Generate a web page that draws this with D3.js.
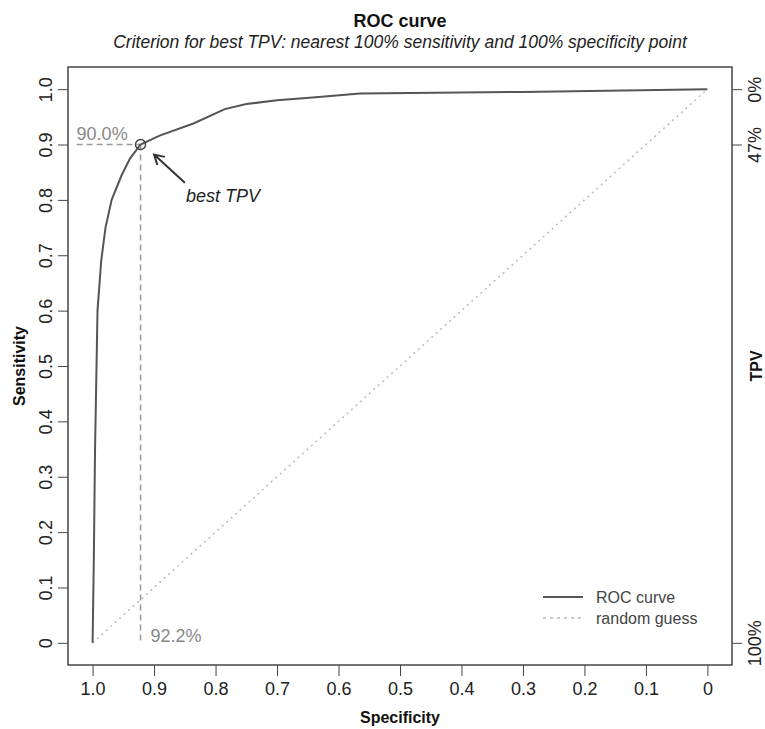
<!DOCTYPE html>
<html>
<head>
<meta charset="utf-8">
<script src="https://cdn.jsdelivr.net/npm/d3@7"></script>
<style>
  body { margin: 0; background: #fff; }
  svg text { font-family: "Liberation Sans", Arial, sans-serif; }
</style>
</head>
<body>
<div id="chart"></div>
<script>
// ROC curve points
var specificity = [1.0, 0.998, 0.996, 0.992, 0.986, 0.979, 0.969, 0.953, 0.939, 0.922, 0.891, 0.836, 0.785, 0.75, 0.70, 0.642, 0.565, 0.30, 0.0];
var sensitivity = [0.0, 0.15, 0.35, 0.60, 0.69, 0.75, 0.80, 0.844, 0.875, 0.90, 0.916, 0.938, 0.964, 0.973, 0.98, 0.985, 0.992, 0.995, 1.0];

// random guess diagonal
var guessSpec = [1, 0];
var guessSens = [0, 1];

// best threshold
var bestSpec = 0.922, bestSens = 0.90;
var bestSensLabel = "90.0%", bestSpecLabel = "92.2%";

// tick values
var xTicks = [1.0, 0.9, 0.8, 0.7, 0.6, 0.5, 0.4, 0.3, 0.2, 0.1, 0];
var yTicks = [0, 0.1, 0.2, 0.3, 0.4, 0.5, 0.6, 0.7, 0.8, 0.9, 1.0];
var tpvTicks = [1.0, 0.9, 0];
var tpvLabels = ["0%", "47%", "100%"];

var legendLabels = ["ROC curve", "random guess"];

var W = 765, H = 729;
var margin = {top: 67, right: 33, bottom: 64, left: 68};
var width = W - margin.left - margin.right,
    height = H - margin.top - margin.bottom;

var svg = d3.select("#chart").append("svg")
    .attr("width", W).attr("height", H);

var g = svg.append("g")
    .attr("transform", "translate(" + margin.left + "," + margin.top + ")");

// R-style 4% extension of the ranges
var xScale = d3.scaleLinear().domain([1.04, -0.04]).range([0, width]);
var yScale = d3.scaleLinear().domain([-0.04, 1.04]).range([height, 0]);

var fmt = function(d) { return d === 0 ? "0" : d3.format(".1f")(d); };

// title
svg.append("text")
    .attr("x", margin.left + width / 2).attr("y", 27)
    .style("text-anchor", "middle")
    .style("font-size", "18px").style("font-weight", "bold")
    .style("fill", "#111")
    .text("ROC curve");
svg.append("text")
    .attr("x", margin.left + width / 2).attr("y", 48)
    .style("text-anchor", "middle")
    .style("font-size", "17.5px").style("font-style", "italic")
    .style("fill", "#222")
    .text("Criterion for best TPV: nearest 100% sensitivity and 100% specificity point");

// axes
var xAxis = d3.axisBottom(xScale).tickValues(xTicks).tickFormat(fmt).tickSizeOuter(0).tickSize(11).tickPadding(6);
var yAxis = d3.axisLeft(yScale).tickValues(yTicks).tickFormat(fmt).tickSizeOuter(0).tickSize(10);
var rAxis = d3.axisRight(yScale).tickValues(tpvTicks)
    .tickFormat(function(d, i) { return tpvLabels[i]; }).tickSizeOuter(0).tickSize(10);

var gx = g.append("g").attr("transform", "translate(0," + height + ")").call(xAxis);
gx.selectAll("text").style("font-size", "18px").style("fill", "#222");

var gy = g.append("g").call(yAxis);
gy.selectAll("text")
    .attr("x", 0).attr("y", 0).attr("dy", "0.35em")
    .attr("transform", "translate(-22,0) rotate(-90)")
    .style("text-anchor", "middle")
    .style("font-size", "18px").style("fill", "#222");

var gr = g.append("g").attr("transform", "translate(" + width + ",0)").call(rAxis);
gr.selectAll("text")
    .attr("x", 0).attr("y", 0).attr("dy", "0.35em")
    .attr("transform", "translate(23,0) rotate(-90)")
    .style("text-anchor", "middle")
    .style("font-size", "18px").style("fill", "#222");

g.selectAll(".domain").remove();
g.selectAll(".tick line").attr("stroke", "#444");

// box
g.append("rect")
    .attr("width", width).attr("height", height)
    .attr("fill", "none").attr("stroke", "#444").attr("stroke-width", 1.5);

// axis labels
svg.append("text")
    .attr("x", margin.left + width / 2).attr("y", 723)
    .style("text-anchor", "middle")
    .style("font-size", "16px").style("font-weight", "bold").style("fill", "#111")
    .text("Specificity");
svg.append("text")
    .attr("transform", "translate(25," + (margin.top + height / 2) + ") rotate(-90)")
    .style("text-anchor", "middle")
    .style("font-size", "16px").style("font-weight", "bold").style("fill", "#111")
    .text("Sensitivity");
svg.append("text")
    .attr("transform", "translate(762," + (margin.top + height / 2) + ") rotate(-90)")
    .style("text-anchor", "middle")
    .style("font-size", "16px").style("font-weight", "bold").style("fill", "#111")
    .text("TPV");

// random guess
var line = d3.line()
    .x(function(d) { return xScale(d[0]); })
    .y(function(d) { return yScale(d[1]); });

g.append("path")
    .datum(d3.zip(guessSpec, guessSens))
    .attr("d", line)
    .attr("fill", "none").attr("stroke", "#bbb")
    .attr("stroke-width", 1.5).attr("stroke-dasharray", "2,4");

// best point guides
g.append("line")
    .attr("x1", xScale(1.026)).attr("x2", xScale(bestSpec))
    .attr("y1", yScale(bestSens)).attr("y2", yScale(bestSens))
    .attr("stroke", "#999").attr("stroke-width", 1.5).attr("stroke-dasharray", "6,4");
g.append("line")
    .attr("x1", xScale(bestSpec)).attr("x2", xScale(bestSpec))
    .attr("y1", yScale(bestSens)).attr("y2", yScale(0))
    .attr("stroke", "#999").attr("stroke-width", 1.5).attr("stroke-dasharray", "6,4");

g.append("text")
    .attr("x", xScale(1.026)).attr("y", yScale(bestSens) - 5)
    .style("font-size", "18px").style("fill", "#888")
    .text(bestSensLabel);
g.append("text")
    .attr("x", xScale(bestSpec) + 10).attr("y", yScale(0) - 1)
    .style("font-size", "18px").style("fill", "#888")
    .text(bestSpecLabel);

// ROC curve
g.append("path")
    .datum(d3.zip(specificity, sensitivity))
    .attr("d", line)
    .attr("fill", "none").attr("stroke", "#555").attr("stroke-width", 2);

g.append("circle")
    .attr("cx", xScale(bestSpec)).attr("cy", yScale(bestSens)).attr("r", 5)
    .attr("fill", "none").attr("stroke", "#444").attr("stroke-width", 1.5);

// arrow + label
var ax0 = xScale(0.85), ay0 = yScale(0.831), ax1 = xScale(0.9), ay1 = yScale(0.882);
var ang = Math.atan2(ay1 - ay0, ax1 - ax0), hl = 11;
g.append("path")
    .attr("d", "M" + ax0 + "," + ay0 + "L" + ax1 + "," + ay1 +
        "M" + (ax1 - hl * Math.cos(ang - Math.PI / 6)) + "," + (ay1 - hl * Math.sin(ang - Math.PI / 6)) +
        "L" + ax1 + "," + ay1 +
        "L" + (ax1 - hl * Math.cos(ang + Math.PI / 6)) + "," + (ay1 - hl * Math.sin(ang + Math.PI / 6)))
    .attr("fill", "none").attr("stroke", "#333").attr("stroke-width", 2);
g.append("text")
    .attr("x", xScale(0.848)).attr("y", yScale(0.807)).attr("dy", "0.35em")
    .style("font-size", "18px").style("font-style", "italic").style("fill", "#222")
    .text("best TPV");

// legend
var legend = g.selectAll(".legend")
    .data(legendLabels)
    .enter().append("g")
    .attr("class", "legend")
    .attr("transform", function(d, i) { return "translate(" + (543 - margin.left) + "," + (597 - margin.top + i * 21) + ")"; });
legend.append("line")
    .attr("x1", 0).attr("x2", 40)
    .attr("stroke", function(d, i) { return i === 0 ? "#555" : "#bbb"; })
    .attr("stroke-width", function(d, i) { return i === 0 ? 2 : 1.5; })
    .attr("stroke-dasharray", function(d, i) { return i === 0 ? null : "3,4"; });
legend.append("text")
    .attr("x", 53).attr("dy", "0.35em")
    .style("font-size", "16px").style("fill", "#444")
    .text(function(d) { return d; });
</script>
</body>
</html>
